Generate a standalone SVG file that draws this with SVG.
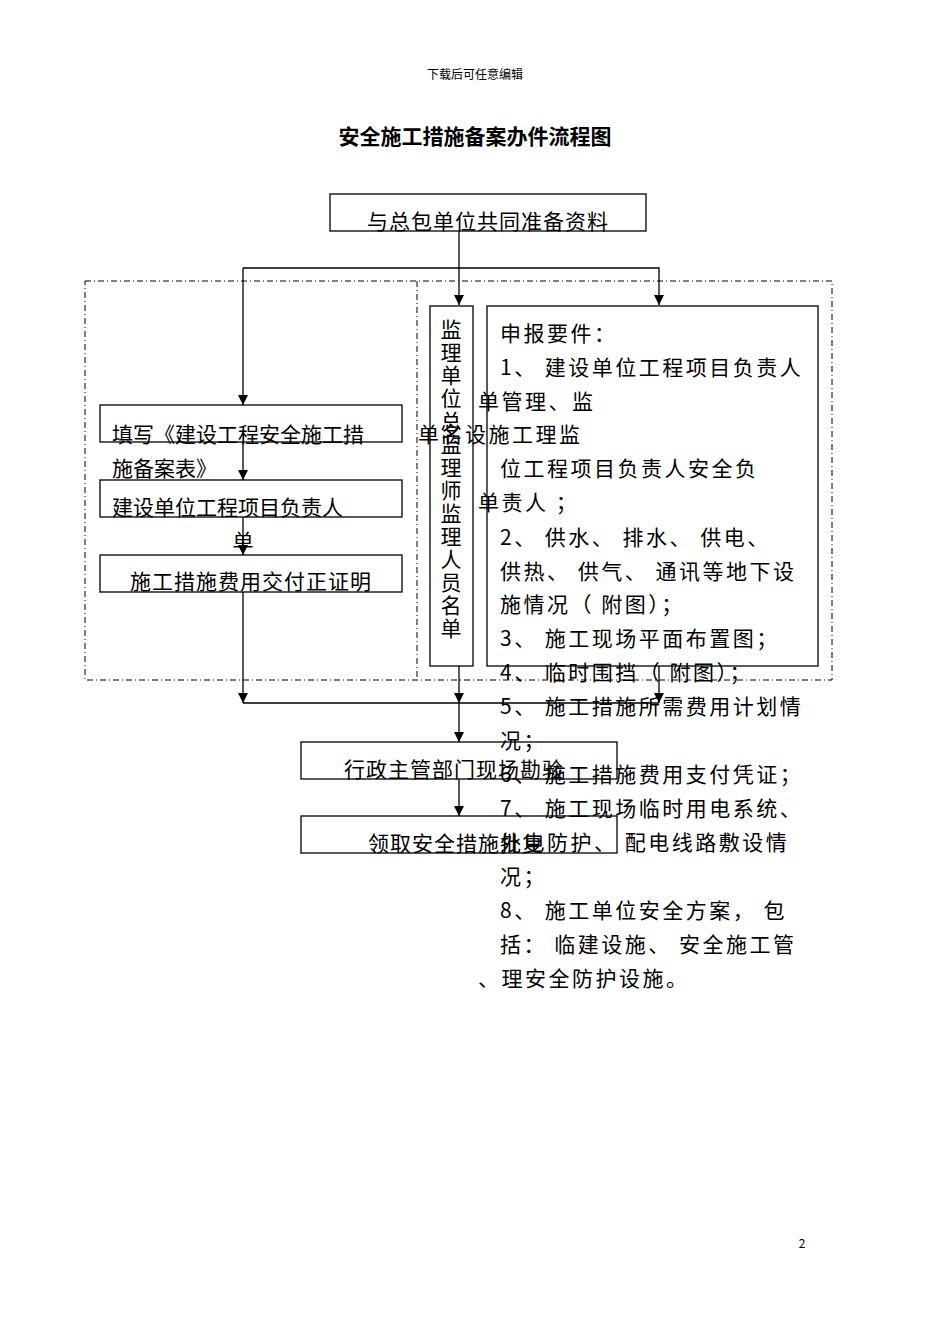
<svg xmlns="http://www.w3.org/2000/svg" width="950" height="1344" viewBox="0 0 950 1344">
<style>
text{font-family:"Noto Sans CJK SC","Liberation Sans",sans-serif;fill:#000}
.b{fill:#fff;stroke:#000;stroke-width:1.3}
.t{font-size:21px}
.r{font-size:21px;letter-spacing:2.5px}
.l{stroke:#000;stroke-width:1.3;fill:none}
.d{stroke:#000;stroke-width:1;fill:none;stroke-dasharray:6 3 1 3}
</style>
<defs><marker id="v" markerWidth="10" markerHeight="10" refX="5" refY="10" markerUnits="userSpaceOnUse"><path d="M0,0 L10,0 L5,10 Z"/></marker></defs>
<rect width="950" height="1344" fill="#fff"/>
<text x="475" y="79" font-size="12" text-anchor="middle">下载后可任意编辑</text>
<text x="475" y="144" font-size="21" font-weight="bold" text-anchor="middle">安全施工措施备案办件流程图</text>
<rect class="d" x="85" y="281" width="747" height="399"/>
<line class="d" x1="417" y1="281" x2="417" y2="680"/>
<g id="connectors">
<line class="l" x1="459" y1="231" x2="459" y2="305" marker-end="url(#v)"/>
<polyline class="l" points="243,268 659,268 659,305" marker-end="url(#v)"/>
<line class="l" x1="243" y1="268" x2="243" y2="405" marker-end="url(#v)"/>
<line class="l" x1="243" y1="442" x2="243" y2="480" marker-end="url(#v)"/>
<line class="l" x1="243" y1="517" x2="243" y2="555" marker-end="url(#v)"/>
<line class="l" x1="243" y1="592" x2="243" y2="703" marker-end="url(#v)"/>
<line class="l" x1="243" y1="703" x2="659" y2="703"/>
<line class="l" x1="659" y1="666" x2="659" y2="703" marker-end="url(#v)"/>
<line class="l" x1="459" y1="666" x2="459" y2="703" marker-end="url(#v)"/>
<line class="l" x1="459" y1="703" x2="459" y2="742" marker-end="url(#v)"/>
<line class="l" x1="459" y1="779" x2="459" y2="816" marker-end="url(#v)"/>
</g>
<g id="n1"><rect class="b" x="330" y="194" width="316" height="37"/><text class="t" x="488" y="229" text-anchor="middle" letter-spacing="1">与总包单位共同准备资料</text></g>
<g id="n2"><rect class="b" x="430" y="306" width="43" height="360"/>
<text class="t" text-anchor="middle"><tspan x="451" y="337">监</tspan><tspan x="451" y="360">理</tspan><tspan x="451" y="383">单</tspan><tspan x="451" y="406">位</tspan><tspan x="451" y="429">总</tspan><tspan x="451" y="452">监</tspan><tspan x="451" y="475">理</tspan><tspan x="451" y="498">师</tspan><tspan x="451" y="521">监</tspan><tspan x="451" y="544">理</tspan><tspan x="451" y="567">人</tspan><tspan x="451" y="590">员</tspan><tspan x="451" y="613">名</tspan><tspan x="451" y="636">单</tspan></text></g>
<g id="n3"><rect class="b" x="487" y="306" width="331" height="360"/></g>
<g id="n4"><rect class="b" x="100" y="405" width="302" height="37"/><text class="t" x="112" y="442">填写《建设工程安全施工措</text><text class="t" x="112" y="476">施备案表》</text></g>
<g id="n5"><rect class="b" x="100" y="480" width="302" height="37"/><text class="t" x="112" y="515">建设单位工程项目负责人</text><text class="t" x="243" y="549" text-anchor="middle">单</text></g>
<g id="n6"><rect class="b" x="100" y="555" width="302" height="37"/><text class="t" x="251" y="589" text-anchor="middle" letter-spacing="1">施工措施费用交付正证明</text></g>
<g id="n7"><rect class="b" x="301" y="742" width="316" height="37"/><text class="t" x="344" y="777" letter-spacing="1">行政主管部门现场勘验</text></g>
<g id="n8"><rect class="b" x="301" y="816" width="316" height="37"/><text class="t" x="368" y="851" letter-spacing="1">领取安全措施批复</text></g>
<g id="list">
<text class="r" x="500" y="341">申报要件：</text>
<text class="r" x="500" y="375">1、  建设单位工程项目负责人</text>
<text class="r" x="478" y="409">单管理、监</text>
<text class="r" x="418" y="442">单名设施工理监</text>
<text class="r" x="500" y="476">位工程项目负责人安全负</text>
<text class="r" x="478" y="510">单责人      ；</text>
<text class="r" x="500" y="545">2、  供水、 排水、 供电、</text>
<text class="r" x="500" y="579">供热、 供气、 通讯等地下设</text>
<text class="r" x="500" y="612">施情况（ 附图）；</text>
<text class="r" x="500" y="646">3、  施工现场平面布置图；</text>
<text class="r" x="500" y="680">4、  临时围挡（ 附图）；</text>
<text class="r" x="500" y="714">5、  施工措施所需费用计划情</text>
<text class="r" x="500" y="748">况；</text>
<text class="r" x="500" y="782">6、  施工措施费用支付凭证；</text>
<text class="r" x="500" y="816">7、  施工现场临时用电系统、</text>
<text class="r" x="500" y="850">外电防护、  配电线路敷设情</text>
<text class="r" x="500" y="884">况；</text>
<text class="r" x="500" y="918">8、  施工单位安全方案， 包</text>
<text class="r" x="500" y="952">括： 临建设施、 安全施工管</text>
<text class="r" x="478" y="986">、理安全防护设施。</text>
</g>
<text x="802" y="1248" font-size="12" text-anchor="middle">2</text>
</svg>
